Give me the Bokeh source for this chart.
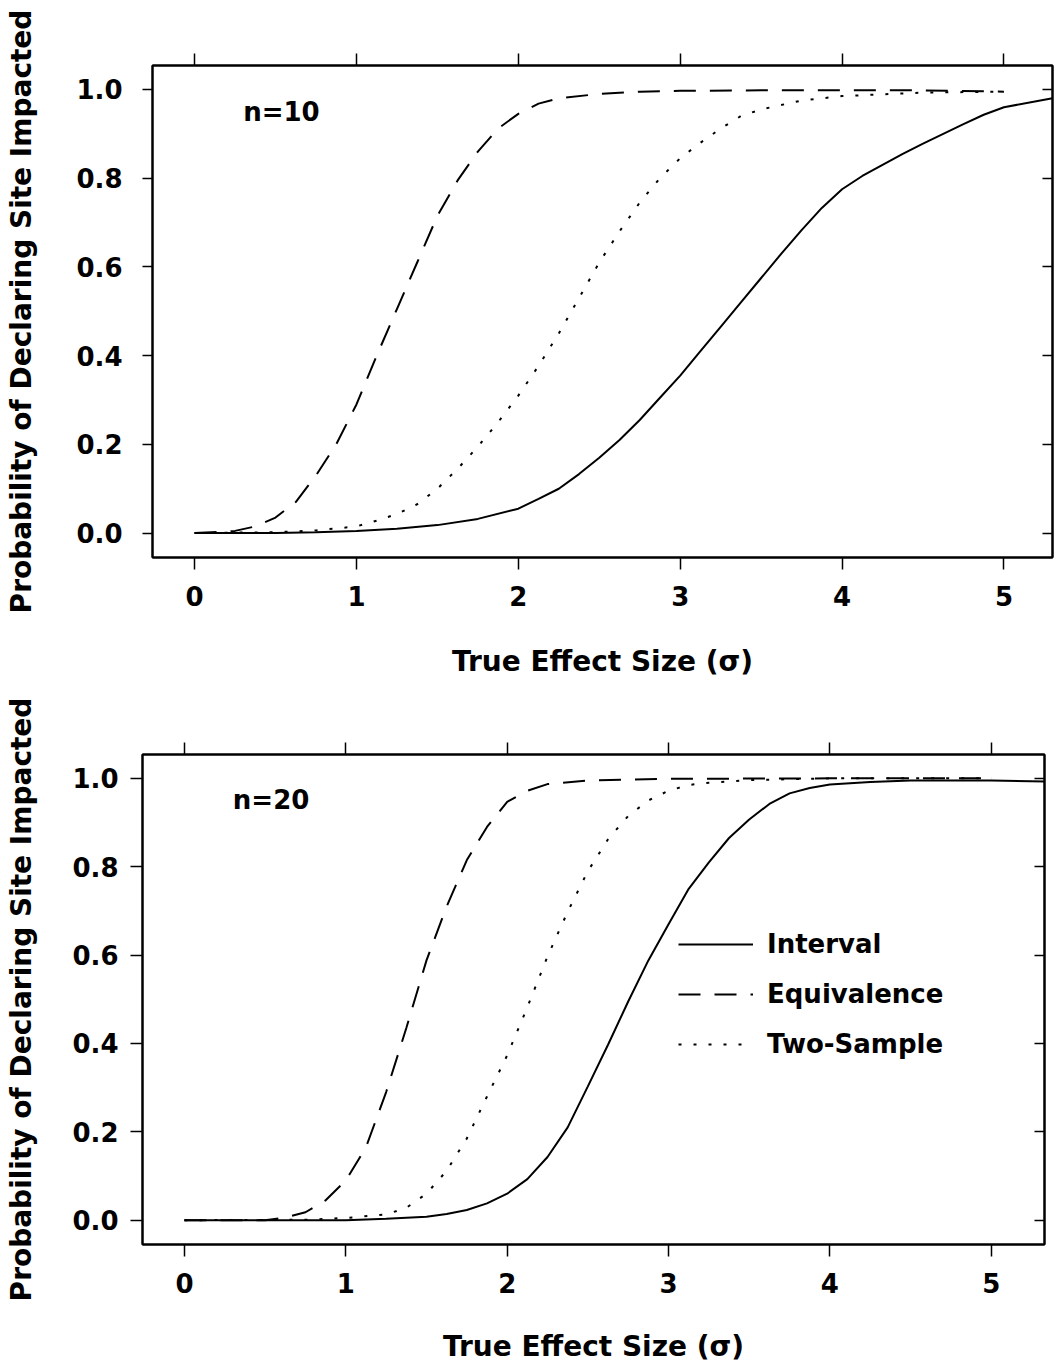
from bokeh.plotting import figure
from bokeh.models import (LinearAxis, FixedTicker, Range1d, Label, Legend,
                          LegendItem, PrintfTickFormatter, CustomJSTickFormatter)
from bokeh.embed import file_html
from bokeh.resources import INLINE

# ---------------- data ----------------
# panel n=10
n10_interval_x = [0.0, 0.5, 0.75, 1.0, 1.25, 1.5, 1.75, 2.0, 2.125, 2.25, 2.375,
                  2.5, 2.625, 2.75, 2.875, 3.0, 3.125, 3.25, 3.375, 3.5, 3.625,
                  3.75, 3.875, 4.0, 4.125, 4.25, 4.375, 4.5, 4.625, 4.75, 4.875,
                  5.0, 5.3]
n10_interval = [0.0, 0.0, 0.002, 0.005, 0.01, 0.018, 0.032, 0.055, 0.077, 0.10,
                0.133, 0.17, 0.21, 0.255, 0.305, 0.355, 0.41, 0.465, 0.52,
                0.575, 0.63, 0.683, 0.733, 0.775, 0.805, 0.83, 0.855, 0.878,
                0.90, 0.922, 0.943, 0.96, 0.98]

n10_equivalence_x = [0.0, 0.25, 0.375, 0.5, 0.625, 0.75, 0.875, 1.0, 1.125,
                     1.25, 1.375, 1.5, 1.625, 1.75, 1.875, 2.0, 2.125, 2.25,
                     2.5, 2.75, 3.0, 3.5, 4.0, 4.5, 5.0]
n10_equivalence = [0.0, 0.005, 0.015, 0.035, 0.07, 0.13, 0.20, 0.29, 0.40,
                   0.505, 0.61, 0.715, 0.795, 0.86, 0.912, 0.945, 0.968, 0.98,
                   0.99, 0.995, 0.997, 0.998, 0.998, 0.998, 0.995]

n10_two_sample_x = [0.0, 0.5, 0.75, 1.0, 1.125, 1.25, 1.375, 1.5, 1.625, 1.75,
                    1.875, 2.0, 2.125, 2.25, 2.375, 2.5, 2.625, 2.75, 2.875,
                    3.0, 3.125, 3.25, 3.375, 3.5, 3.75, 4.0, 4.5, 5.0]
n10_two_sample = [0.0, 0.002, 0.006, 0.015, 0.028, 0.043, 0.065, 0.10, 0.145,
                  0.195, 0.25, 0.31, 0.377, 0.45, 0.53, 0.61, 0.68, 0.745,
                  0.80, 0.845, 0.88, 0.912, 0.94, 0.955, 0.975, 0.985, 0.993,
                  0.995]

# panel n=20
n20_interval_x = [0.0, 1.0, 1.25, 1.5, 1.625, 1.75, 1.875, 2.0, 2.125, 2.25,
                  2.375, 2.5, 2.625, 2.75, 2.875, 3.0, 3.125, 3.25, 3.375, 3.5,
                  3.625, 3.75, 3.875, 4.0, 4.25, 4.5, 5.0, 5.35]
n20_interval = [0.0, 0.0, 0.003, 0.008, 0.014, 0.023, 0.038, 0.06, 0.093, 0.143,
                0.21, 0.303, 0.397, 0.495, 0.588, 0.67, 0.75, 0.81, 0.865,
                0.907, 0.942, 0.966, 0.978, 0.986, 0.992, 0.995, 0.995, 0.993]

n20_equivalence_x = [0.0, 0.5, 0.625, 0.75, 0.875, 1.0, 1.125, 1.25, 1.375,
                     1.5, 1.625, 1.75, 1.875, 2.0, 2.125, 2.25, 2.5, 3.0, 4.0,
                     5.0]
n20_equivalence = [0.0, 0.0, 0.006, 0.018, 0.045, 0.09, 0.165, 0.29, 0.435,
                   0.588, 0.71, 0.815, 0.89, 0.947, 0.972, 0.987, 0.995, 0.999,
                   1.0, 1.0]

n20_two_sample_x = [0.0, 0.75, 1.0, 1.25, 1.375, 1.5, 1.625, 1.75, 1.875, 2.0,
                    2.125, 2.25, 2.375, 2.5, 2.625, 2.75, 2.875, 3.0, 3.125,
                    3.25, 3.5, 4.0, 5.0]
n20_two_sample = [0.0, 0.001, 0.005, 0.013, 0.028, 0.06, 0.112, 0.185, 0.28,
                  0.373, 0.482, 0.597, 0.698, 0.79, 0.862, 0.915, 0.95, 0.972,
                  0.985, 0.99, 0.996, 1.0, 1.0]

x_ticks = [0, 1, 2, 3, 4, 5]
y_ticks = [0.0, 0.2, 0.4, 0.6, 0.8, 1.0]
series_names = ["Interval", "Equivalence", "Two-Sample"]
panel_titles = ["n=10", "n=20"]
x_title = "True Effect Size (\u03c3)"
y_title = "Probability of Declaring Site Impacted"

FONT = "DejaVu Sans"


def style_axis(ax, ticks, labels=True):
    ax.ticker = FixedTicker(ticks=ticks, minor_ticks=[])
    ax.axis_line_color = "black"
    ax.axis_line_width = 2
    ax.major_tick_line_color = "black"
    ax.major_tick_line_width = 1.5
    ax.minor_tick_line_color = None
    ax.major_label_text_font = FONT
    ax.major_label_text_font_style = "bold"
    ax.major_label_text_font_size = "26px"
    ax.axis_label_text_font = FONT
    ax.axis_label_text_font_style = "bold"
    ax.axis_label_text_font_size = "28px"
    ax.axis_label_text_color = "black"
    if labels:
        ax.major_label_text_color = "black"
    else:
        ax.formatter = CustomJSTickFormatter(code="return ''")
        ax.major_label_text_color = None
        ax.major_label_standoff = 0


def make_panel(height, b_left, b_right, b_top, b_bottom, x_end, title, series,
               with_legend, y_tick_out, y_label_standoff, y_title_standoff,
               x_title_standoff):
    p = figure(width=1054, height=height,
               x_range=Range1d(-0.26, x_end), y_range=Range1d(-0.055, 1.054),
               output_backend="svg", toolbar_location=None,
               min_border_left=b_left, min_border_right=b_right,
               min_border_top=b_top, min_border_bottom=b_bottom)
    p.xgrid.visible = False
    p.ygrid.visible = False
    p.outline_line_color = "black"
    p.outline_line_width = 2
    p.background_fill_color = "white"
    p.border_fill_color = "white"

    xa = p.xaxis[0]
    style_axis(xa, x_ticks)
    xa.axis_label = x_title
    xa.major_tick_out = 12
    xa.major_tick_in = 0
    xa.major_label_standoff = 16
    xa.axis_label_standoff = x_title_standoff

    ya = p.yaxis[0]
    style_axis(ya, y_ticks)
    ya.formatter = PrintfTickFormatter(format="%.1f")
    ya.axis_label = y_title
    ya.major_tick_out = y_tick_out
    ya.major_tick_in = 0
    ya.major_label_standoff = y_label_standoff
    ya.axis_label_standoff = y_title_standoff

    top = LinearAxis()
    style_axis(top, x_ticks, labels=False)
    top.major_tick_out = 12
    top.major_tick_in = 0
    p.add_layout(top, "above")

    right = LinearAxis()
    style_axis(right, y_ticks, labels=False)
    right.major_tick_out = 0
    right.major_tick_in = 10
    p.add_layout(right, "right")

    (ix, iy), (ex, ey), (tx, ty) = series
    r1 = p.line(ix, iy, line_color="black", line_width=2)
    r2 = p.line(ex, ey, line_color="black", line_width=2, line_dash="22 14")
    r3 = p.line(tx, ty, line_color="black", line_width=2, line_dash="3 12")

    p.add_layout(Label(x=0.30, y=0.95, text=title, text_baseline="middle",
                       text_font=FONT, text_font_style="bold",
                       text_font_size="26px", text_color="black"))

    if with_legend:
        leg = Legend(items=[LegendItem(label=series_names[0], renderers=[r1]),
                            LegendItem(label=series_names[1], renderers=[r2]),
                            LegendItem(label=series_names[2], renderers=[r3])],
                     location=(536, 175))
        leg.border_line_color = None
        leg.background_fill_alpha = 0
        leg.padding = 0
        leg.margin = 0
        leg.spacing = 0
        leg.glyph_width = 75
        leg.glyph_height = 50
        leg.label_height = 50
        leg.label_standoff = 14
        leg.label_text_font = FONT
        leg.label_text_font_style = "bold"
        leg.label_text_font_size = "26px"
        leg.label_text_color = "black"
        p.add_layout(leg)
    return p


p_top = make_panel(690, 152, 2, 65, 133, 5.30, panel_titles[0],
                   [(n10_interval_x, n10_interval),
                    (n10_equivalence_x, n10_equivalence),
                    (n10_two_sample_x, n10_two_sample)],
                   False, 10, 20, 35, 36)
p_bot = make_panel(675, 142, 10, 64, 120, 5.33, panel_titles[1],
                   [(n20_interval_x, n20_interval),
                    (n20_equivalence_x, n20_equivalence),
                    (n20_two_sample_x, n20_two_sample)],
                   True, 12, 12, 31, 34)

# two independent roots stacked vertically (no frame alignment between them)
open("out.html", "w").write(file_html([p_top, p_bot], INLINE))
